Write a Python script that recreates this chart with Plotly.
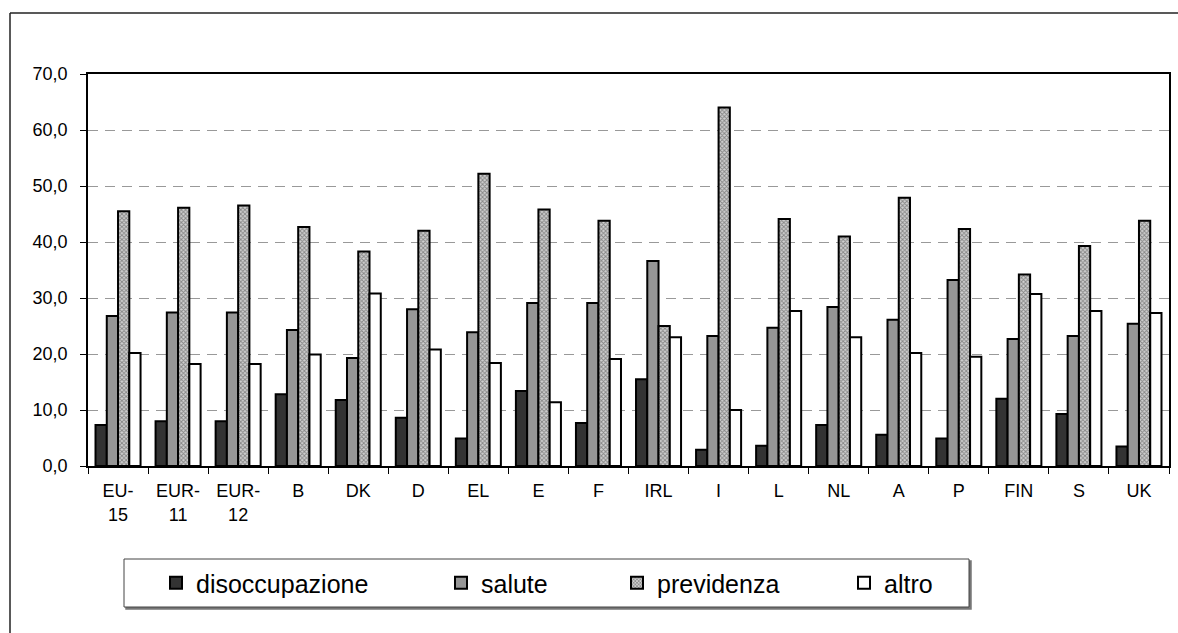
import plotly.graph_objects as go

categories = ["EU-15", "EUR-11", "EUR-12", "B", "DK", "D", "EL", "E", "F",
              "IRL", "I", "L", "NL", "A", "P", "FIN", "S", "UK"]
tick_labels = ["EU-<br>15", "EUR-<br>11", "EUR-<br>12", "B", "DK", "D", "EL", "E", "F",
               "IRL", "I", "L", "NL", "A", "P", "FIN", "S", "UK"]
disoccupazione = [7.3, 8.0, 8.0, 12.8, 11.8, 8.6, 4.9, 13.4, 7.7, 15.5, 2.9, 3.6, 7.3, 5.6, 4.9, 12.0, 9.3, 3.5]
salute = [26.8, 27.4, 27.4, 24.3, 19.3, 28.0, 23.9, 29.1, 29.1, 36.6, 23.2, 24.7, 28.4, 26.1, 33.2, 22.7, 23.2, 25.4]
previdenza = [45.5, 46.1, 46.5, 42.7, 38.3, 42.0, 52.2, 45.8, 43.8, 25.0, 64.0, 44.1, 41.0, 47.9, 42.3, 34.2, 39.3, 43.8]
altro = [20.2, 18.2, 18.2, 19.9, 30.8, 20.8, 18.4, 11.4, 19.1, 23.0, 10.0, 27.7, 23.0, 20.2, 19.5, 30.7, 27.7, 27.3]
series_names = ["disoccupazione", "salute", "previdenza", "altro"]
y_ticks = [0, 10, 20, 30, 40, 50, 60, 70]

W, H = 1178, 633
L, R, T, B = 88, 1169, 74, 466  # plot area in pixels

def px(x):
    return (x - L) / (R - L)

def py(y):
    return (B - y) / (B - T)

FONT = "Liberation Sans, Arial, sans-serif"

fig = go.Figure()
styles = [
    dict(color="#333333"),
    dict(color="#969696"),
    dict(color="#c8c8c8", pattern=dict(shape="x", size=3, solidity=0.5, fgcolor="#3a3a3a", bgcolor="#d0d0d0")),
    dict(color="white"),
]
values = [disoccupazione, salute, previdenza, altro]
legend_ids = ["legend", "legend2", "legend3", "legend4"]
for name, vals, st, lg in zip(series_names, values, styles, legend_ids):
    fig.add_trace(go.Bar(
        x=categories, y=vals, name=name, legend=lg,
        marker=dict(line=dict(color="black", width=2), **st),
    ))

legend_marker_x = [170, 455, 631, 858]
legend_common = dict(
    xref="container", yref="container", xanchor="left", yanchor="middle",
    bgcolor="rgba(0,0,0,0)", borderwidth=0,
    font=dict(family=FONT, size=25, color="black"),
    itemclick=False, itemdoubleclick=False,
)
for lg, mx in zip(legend_ids, legend_marker_x):
    fig.update_layout(**{lg: dict(x=(mx - 14) / W, y=1 - 583 / H, **legend_common)})

shapes = [
    # outer frame (left + top)
    dict(type="line", xref="paper", yref="paper", x0=px(10), x1=px(1200), y0=py(13), y1=py(13),
         line=dict(color="#222222", width=1.5)),
    dict(type="line", xref="paper", yref="paper", x0=px(10), x1=px(10), y0=py(13), y1=py(650),
         line=dict(color="#222222", width=1.5)),
    # legend box shadow + box
    dict(type="rect", xref="paper", yref="paper", x0=px(126), x1=px(971), y0=py(561), y1=py(609),
         line=dict(color="#777777", width=1.5), fillcolor="#777777", layer="above"),
    dict(type="rect", xref="paper", yref="paper", x0=px(124), x1=px(969), y0=py(559), y1=py(607),
         line=dict(color="#444444", width=1), fillcolor="white", layer="above"),
]

fig.update_layout(
    width=W, height=H,
    margin=dict(l=L, r=W - R, t=T, b=H - B, autoexpand=False),
    paper_bgcolor="white", plot_bgcolor="white",
    barmode="group", bargap=0.25, bargroupgap=0,
    separators=",.",
    font=dict(family=FONT, size=18, color="black"),
    shapes=shapes,
    showlegend=True,
)
fig.update_xaxes(
    type="category", tickmode="array", tickvals=categories, ticktext=tick_labels,
    tickson="boundaries", ticks="outside", ticklen=6, tickcolor="black", tickwidth=1,
    showline=True, linecolor="black", linewidth=1.5, mirror=True,
    showgrid=False, tickfont=dict(family=FONT, size=18), ticklabelstandoff=8,
)
fig.update_yaxes(
    range=[0, 70], tickvals=y_ticks, tickformat=".1f",
    ticks="outside", ticklen=6, tickcolor="black", tickwidth=1,
    showline=True, linecolor="black", linewidth=1.5, mirror=True,
    showgrid=True, gridcolor="#999999", gridwidth=1, griddash="10px,7px",
    zeroline=False, tickfont=dict(family=FONT, size=18), ticklabelstandoff=9,
)

fig.write_html(
    "out.html",
    config={"displayModeBar": False},
    post_script="document.body.style.margin='0';document.body.style.overflow='hidden';",
)
